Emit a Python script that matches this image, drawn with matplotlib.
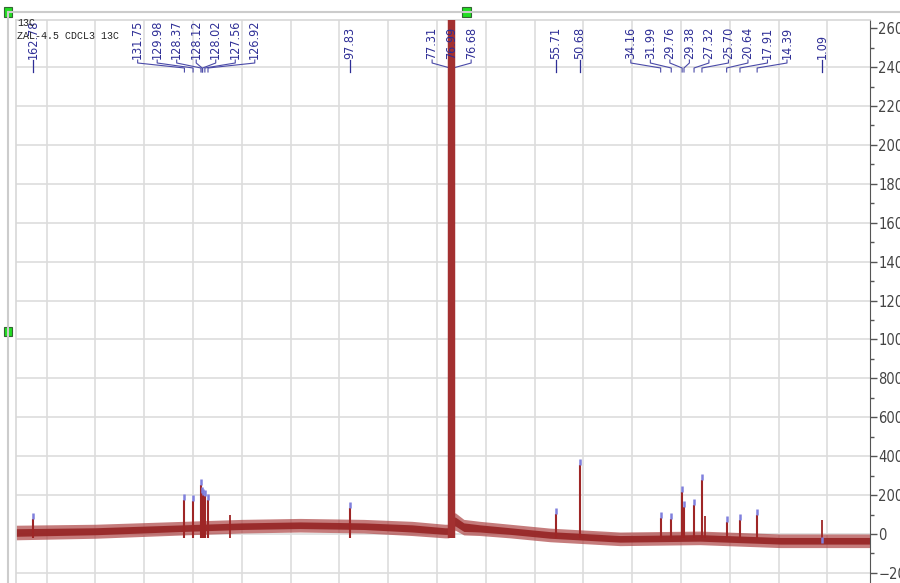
import numpy as np
import matplotlib
matplotlib.use('Agg')
import matplotlib.pyplot as plt
from matplotlib.patches import Rectangle
from matplotlib.lines import Line2D
from matplotlib.ticker import MultipleLocator
from matplotlib import font_manager

# picked peaks (ppm) and their heights
peak_ppm = [162.78, 131.75, 129.98, 128.37, 128.12, 128.02, 127.56, 126.92,
            97.83, 77.31, 76.99, 76.68, 55.71, 50.68,
            34.16, 31.99, 29.76, 29.38, 27.32, 25.70, 20.64, 17.91, 14.39, 1.09]
peak_height = [77, 175, 170, 252, 210, 200, 195, 175,
               133, 20000, 20000, 20000, 103, 355,
               82, 77, 216, 139, 150, 278, 62, 72, 98, -45]

# a few spikes that stand out of the noise but are not labelled
spike_ppm = [122.4, 25.1, 1.2]
spike_height = [95, 90, 72]

# baseline / noise envelope
base_ppm = [166.3, 150.0, 132.0, 120.0, 108.1, 95.0, 85.1, 78.4, 77.6,
            76.3, 74.5, 71.2, 65.0, 56.8, 42.5, 26.1, 9.7, -6.7, -8.7]
noise_lo = [-30, -22, -5, 5, 10, 5, -8, -20, -20,
            20, -5, -8, -20, -40, -60, -55, -70, -70, -70]
noise_hi = [45, 50, 65, 75, 80, 75, 65, 50, 50,
            110, 75, 65, 50, 30, 10, 15, 0, 0, 0]
core_lo = [-12, -4, 13, 23, 28, 23, 10, -2, -2,
           42, 13, 10, -2, -22, -42, -37, -52, -52, -52]
core_hi = [27, 32, 47, 57, 62, 57, 47, 32, 32,
           88, 57, 47, 32, 12, -8, -3, -18, -18, -18]

W, H = 900, 583
AX_L, AX_R, AX_T = 16, 870, 20
PX_PER_PPM = 4.88
X0_PX, X0_PPM = 33, 162.78


# look for a narrow face; the screenshot font is a condensed sans
def find_narrow():
    for f in font_manager.fontManager.ttflist:
        if ('Narrow' in f.name or 'Condensed' in f.name or f.stretch in ('condensed', 'semi-condensed')) \
                and f.style == 'normal' and f.weight in (400, 'normal', 'regular'):
            return font_manager.FontProperties(fname=f.fname)
    return None


nf = find_narrow()
if nf is not None:
    lab_font = dict(fontproperties=nf)
    lab_size, tick_size = 9, 10.5
else:
    lab_font = dict(family=['Liberation Sans', 'DejaVu Sans'])
    lab_size, tick_size = 7.2, 9.5

fig = plt.figure(figsize=(W / 100, H / 100), dpi=100)
ax = fig.add_axes([AX_L / W, 0, (AX_R - AX_L) / W, (H - AX_T) / H])

ax.set_xlim(X0_PPM + (X0_PX - AX_L) / PX_PER_PPM, X0_PPM - (AX_R - X0_PX) / PX_PER_PPM)
ax.set_ylim(-252, 2642)

red = '#9e2626'
ax.fill_between(base_ppm, noise_lo, noise_hi, color='#ad4444', alpha=0.7, lw=0, zorder=2)
ax.fill_between(base_ppm, core_lo, core_hi, color='#962424', alpha=0.9, lw=0, zorder=2)
ax.vlines(spike_ppm, -20, spike_height, color=red, lw=1.3, zorder=3)
ax.vlines(peak_ppm, -20, peak_height, color=red, lw=1.5, zorder=3)
big = [p for p, h in zip(peak_ppm, peak_height) if h > 5000]
ax.vlines(big, -20, 20000, color='#a33030', lw=3.2, zorder=3)

# peak pick markers
mk = [(p, h) for p, h in zip(peak_ppm, peak_height) if h < 5000]
ax.vlines([m[0] for m in mk], [m[1] for m in mk], [m[1] + 30 for m in mk],
          color='#8080dd', lw=1.8, zorder=4)

# grid + axes
ax.set_xticks(np.arange(160, -1, -10))
ax.tick_params(axis='x', length=0, labelbottom=False)
ax.yaxis.tick_right()
ax.set_yticks(np.arange(-200, 2601, 200))
ax.yaxis.set_minor_locator(MultipleLocator(100))
ax.tick_params(axis='y', which='major', direction='out', length=5, width=1,
               color='#555555', pad=1, labelsize=tick_size, labelcolor='#444444')
ax.tick_params(axis='y', which='minor', direction='out', length=3, width=1, color='#555555')
for t in ax.get_yticklabels():
    if nf is not None:
        t.set_fontproperties(nf)
        t.set_fontsize(tick_size)
    else:
        t.set_family(lab_font['family'])
ax.grid(True, which='major', color='#dddddd', lw=1.2, zorder=0)
ax.yaxis.get_gridlines()[-1].set_visible(False)
ax.set_axisbelow(True)
for s in ('left', 'top'):
    ax.spines[s].set_color('#d8d8d8')
    ax.spines[s].set_linewidth(1.2)
ax.spines['bottom'].set_visible(False)
ax.spines['right'].set_color('#555555')

# peak labels: spread overlapping labels apart, keep groups centred
GAP = 4.0
clusters = [[p] for p in sorted(peak_ppm, reverse=True)]


def label_pos(c):
    mid = (c[0] + c[-1]) / 2
    n = len(c)
    return [mid + GAP * ((n - 1) / 2 - i) for i in range(n)]


merged = True
while merged:
    merged = False
    for k in range(len(clusters) - 1):
        if label_pos(clusters[k])[-1] - label_pos(clusters[k + 1])[0] < GAP:
            clusters[k] = clusters[k] + clusters[k + 1]
            del clusters[k + 1]
            merged = True
            break

tr = ax.get_xaxis_transform()


def yf(px):
    return (H - px) / (H - AX_T)


lab_col = '#2e2e96'
for c in clusters:
    for p, lx in zip(c, label_pos(c)):
        ax.text(lx, yf(59), f'{p:.2f}', rotation=90, ha='center', va='bottom',
                transform=tr, fontsize=lab_size, color=lab_col, clip_on=False, **lab_font)
        if len(c) == 1:
            ax.plot([p, p], [yf(60), yf(72)], transform=tr, color=lab_col, lw=0.9, clip_on=False)
        else:
            ax.plot([lx, lx, p, p], [yf(60), yf(63), yf(68), yf(72)], transform=tr,
                    color='#4a4aa8', lw=0.8, clip_on=False)

# title lines
fig.text(17 / W, 1 - 18 / H, '13C', fontsize=7.2, family='Liberation Mono', va='top', color='#222222')
fig.text(17 / W, 1 - 31 / H, 'ZAL-4.5 CDCL3 13C', fontsize=7.2, family='Liberation Mono',
         va='top', color='#222222')

# selection frame and handles
fig.add_artist(Line2D([8 / W, 1], [1 - 12 / H, 1 - 12 / H], color='#cccccc', lw=1.5))
fig.add_artist(Line2D([8 / W, 8 / W], [0, 1 - 12 / H], color='#cccccc', lw=1.5))
for cx, cy in [(8, 12), (466, 12), (8, 331)]:
    fig.add_artist(Rectangle(((cx - 4.5) / W, 1 - (cy + 4.5) / H), 9 / W, 9 / H,
                             facecolor='#22dd22', edgecolor='#336633', lw=0.8))

fig.savefig('out.png', dpi=100)
